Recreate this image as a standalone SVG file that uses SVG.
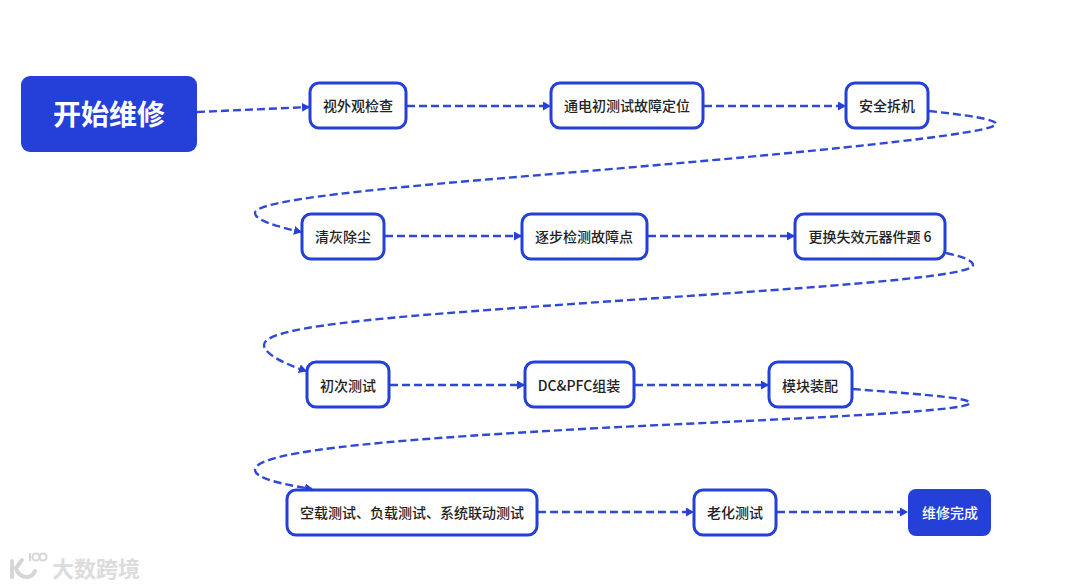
<svg xmlns="http://www.w3.org/2000/svg" width="1080" height="588" viewBox="0 0 1080 588">
<style>
.n{fill:#fff;stroke:#2440d8;stroke-width:3}
.f{fill:#2440d8}
text{font-family:"Noto Sans CJK SC","Noto Sans",sans-serif;text-anchor:middle;font-weight:500;font-size:14px;fill:#222}
.w{fill:#fff}
.c{fill:none;stroke:#2f49d6;stroke-width:2.4;stroke-dasharray:8 4;marker-end:url(#a)}
</style>
<defs><marker id="a" markerUnits="userSpaceOnUse" markerWidth="10" markerHeight="10" refX="7" refY="4.5" orient="auto"><path d="M0 0L8 4.5L0 9Z" fill="#2440d8"/></marker></defs>
<rect width="1080" height="588" fill="#fff"/>
<g id="connectors">
<path class="c" d="M197 112L309 107"/>
<path class="c" d="M407 106L550 106"/>
<path class="c" d="M704 106L845 106"/>
<path class="c" d="M929 111C965 115 996 119 996 124C996 134 800 153 600 170C420 185 255 198 255 213C255 220 275 226 301 232"/>
<path class="c" d="M385 236L521 236"/>
<path class="c" d="M648 236L794 236"/>
<path class="c" d="M946 253C960 256 973 260 973 265C973 278 790 289 600 302C420 315 264 324 264 345C264 354 285 364 306 371"/>
<path class="c" d="M390 385L524 385"/>
<path class="c" d="M635 385L768 385"/>
<path class="c" d="M853 389C900 393 970 397 970 403C970 412 780 419 600 428C420 438 255 449 255 470C255 478 280 484 312 489"/>
<path class="c" d="M538 512L693 512"/>
<path class="c" d="M777 512L907 512"/>
</g>
<g id="n0"><rect class="f" x="21" y="76" width="176" height="76" rx="9"/><text class="w" x="109" y="125" style="font-size:28px;font-weight:700">开始维修</text></g>
<g id="n1"><rect class="n" x="310" y="83" width="96" height="45" rx="9"/><text x="358" y="111">视外观检查</text></g>
<g id="n2"><rect class="n" x="551" y="83" width="152" height="45" rx="9"/><text x="627" y="111">通电初测试故障定位</text></g>
<g id="n3"><rect class="n" x="846" y="83" width="82" height="45" rx="9"/><text x="887" y="111">安全拆机</text></g>
<g id="n4"><rect class="n" x="302" y="214" width="82" height="45" rx="9"/><text x="343" y="242">清灰除尘</text></g>
<g id="n5"><rect class="n" x="522" y="214" width="125" height="45" rx="9"/><text x="584" y="242">逐步检测故障点</text></g>
<g id="n6"><rect class="n" x="795" y="214" width="150" height="45" rx="9"/><text x="870" y="242">更换失效元器件题 6</text></g>
<g id="n7"><rect class="n" x="307" y="362" width="82" height="45" rx="9"/><text x="348" y="391">初次测试</text></g>
<g id="n8"><rect class="n" x="525" y="362" width="109" height="45" rx="9"/><text x="579" y="391">DC&amp;PFC组装</text></g>
<g id="n9"><rect class="n" x="769" y="362" width="83" height="45" rx="9"/><text x="810" y="391">模块装配</text></g>
<g id="n10"><rect class="n" x="287" y="490" width="250" height="45" rx="9"/><text x="412" y="518">空载测试、负载测试、系统联动测试</text></g>
<g id="n11"><rect class="n" x="694" y="490" width="82" height="45" rx="9"/><text x="735" y="518">老化测试</text></g>
<g id="n12"><rect class="f" x="908" y="489" width="83" height="47" rx="8"/><text class="w" x="950" y="518">维修完成</text></g>
<g id="watermark" fill="none" stroke="#d6d6d6">
<path d="M12 561V577M22 560L16 568Q18 577 28 577Q33 576 35 571" stroke-width="4" stroke-linecap="round"/>
<path d="M30 553V561" stroke-width="2"/><circle cx="36" cy="557" r="3.5" stroke-width="2"/><circle cx="43" cy="557" r="3.5" stroke-width="2"/>
<text x="96" y="577" style="font-size:22px;font-weight:700;fill:#dcdcdc;stroke:none">大数跨境</text>
</g>
</svg>
